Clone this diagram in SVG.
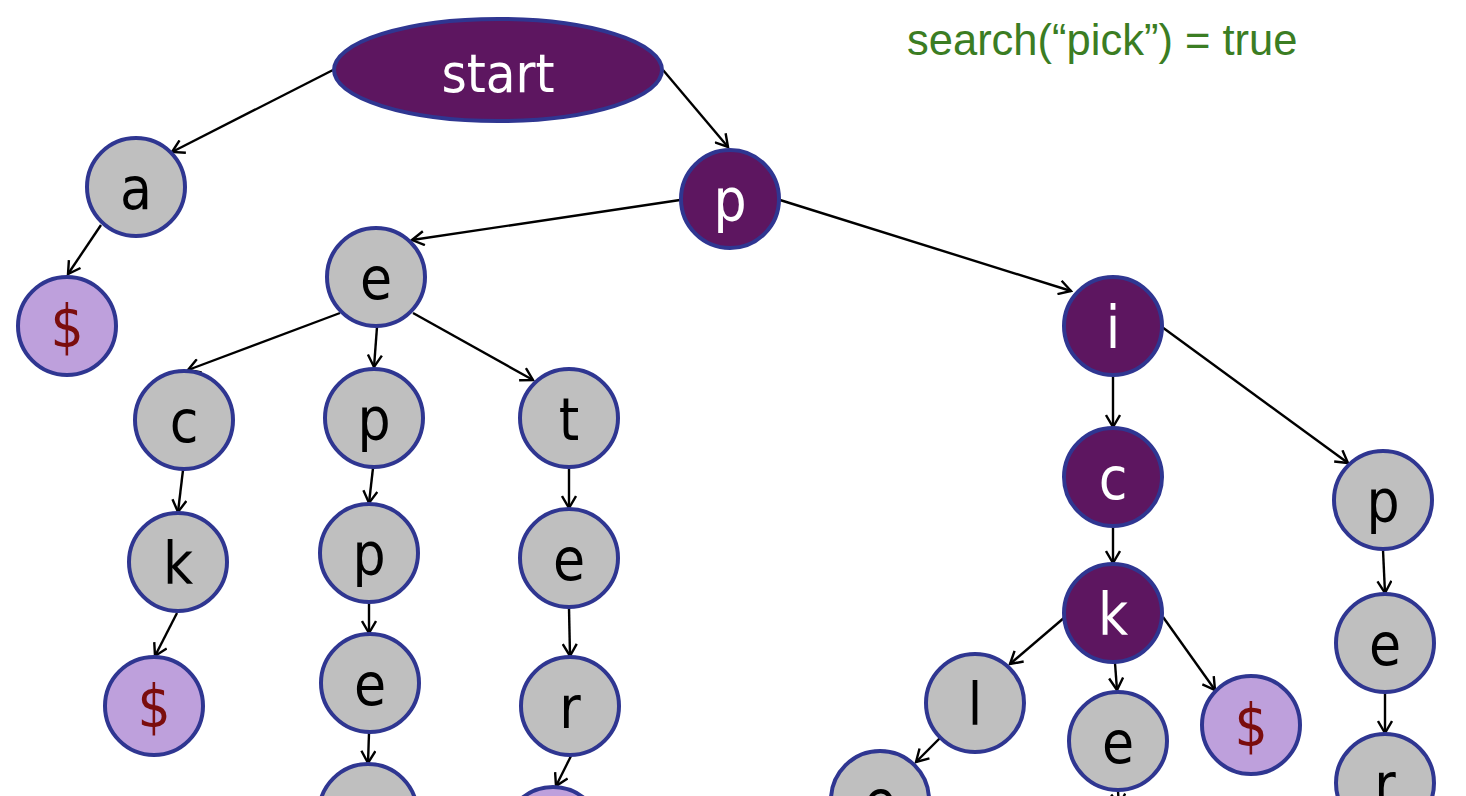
<svg xmlns="http://www.w3.org/2000/svg" width="1466" height="796" viewBox="0 0 1466 796">
<style>
.n circle,.n ellipse{stroke:#2f3691;stroke-width:4}
.g{fill:#bfbfbf}
.pu{fill:#5d1660}
.lv{fill:#bea0dc}
.t{font-family:"DejaVu Sans Condensed","DejaVu Sans",sans-serif;font-size:58px;text-anchor:middle}
.tb{fill:#000}
.tw{fill:#fff}
.td{fill:#7b0d0d}
#edges line{stroke:#000;stroke-width:2.4;marker-end:url(#ah)}
</style>
<defs>
<marker id="ah" markerUnits="userSpaceOnUse" viewBox="-14 -8 16 16" refX="0" refY="0" markerWidth="16" markerHeight="16" orient="auto">
<path d="M-12,-7 L0,0 L-12,7" fill="none" stroke="#000" stroke-width="2.4"/>
</marker>
</defs>
<rect width="1466" height="796" fill="#fff"/>
<text x="907" y="55" font-family="Liberation Sans, Arial, sans-serif" font-size="43.5" fill="#3b7d23">search(“pick”) = true</text>
<g id="edges">
<line x1="333" y1="70" x2="172" y2="152"/>
<line x1="663" y1="70" x2="728" y2="147"/>
<line x1="680" y1="200" x2="412" y2="240"/>
<line x1="780" y1="200" x2="1071" y2="291"/>
<line x1="101" y1="225" x2="68" y2="274"/>
<line x1="340" y1="313" x2="188" y2="370"/>
<line x1="377" y1="327" x2="374" y2="367"/>
<line x1="413" y1="313" x2="533" y2="380"/>
<line x1="183" y1="470" x2="178" y2="512"/>
<line x1="177" y1="613" x2="155" y2="656"/>
<line x1="373" y1="468" x2="369" y2="503"/>
<line x1="369" y1="603" x2="369" y2="633"/>
<line x1="369" y1="733" x2="368" y2="763"/>
<line x1="569" y1="468" x2="569" y2="508"/>
<line x1="569" y1="608" x2="570" y2="656"/>
<line x1="571" y1="756" x2="556" y2="786"/>
<line x1="1113" y1="376" x2="1113" y2="427"/>
<line x1="1162" y1="327" x2="1348" y2="463"/>
<line x1="1113" y1="527" x2="1113" y2="563"/>
<line x1="1065" y1="617" x2="1010" y2="664"/>
<line x1="1115" y1="663" x2="1117" y2="690"/>
<line x1="1163" y1="617" x2="1215" y2="690"/>
<line x1="940" y1="738" x2="916" y2="762"/>
<line x1="1118" y1="791" x2="1119" y2="806"/>
<line x1="1383" y1="550" x2="1385" y2="593"/>
<line x1="1385" y1="693" x2="1385" y2="733"/>
</g>
<g id="n-start" class="n"><ellipse class="pu" cx="498" cy="70" rx="164" ry="51"/><text class="t tw" x="498" y="92" style="font-size:54px">start</text></g>
<g id="n-a" class="n"><circle class="g" cx="136" cy="187" r="49"/><text class="t tb" x="136" y="209">a</text></g>
<g id="n-a-end" class="n"><circle class="lv" cx="67" cy="326" r="49"/><text class="t td" x="67" y="347">$</text></g>
<g id="n-p" class="n"><circle class="pu" cx="730" cy="199" r="49"/><text class="t tw" x="730" y="221">p</text></g>
<g id="n-pe" class="n"><circle class="g" cx="376" cy="277" r="49"/><text class="t tb" x="376" y="299">e</text></g>
<g id="n-pec" class="n"><circle class="g" cx="184" cy="420" r="49"/><text class="t tb" x="184" y="442">c</text></g>
<g id="n-peck" class="n"><circle class="g" cx="178" cy="562" r="49"/><text class="t tb" x="178" y="584">k</text></g>
<g id="n-peck-end" class="n"><circle class="lv" cx="154" cy="706" r="49"/><text class="t td" x="154" y="727">$</text></g>
<g id="n-pep" class="n"><circle class="g" cx="374" cy="418" r="49"/><text class="t tb" x="374" y="440">p</text></g>
<g id="n-pepp" class="n"><circle class="g" cx="369" cy="553" r="49"/><text class="t tb" x="369" y="575">p</text></g>
<g id="n-peppe" class="n"><circle class="g" cx="370" cy="683" r="49"/><text class="t tb" x="370" y="705">e</text></g>
<g id="n-pepper" class="n"><circle class="g" cx="368" cy="813" r="49"/></g>
<g id="n-pet" class="n"><circle class="g" cx="569" cy="418" r="49"/><text class="t tb" x="569" y="440">t</text></g>
<g id="n-pete" class="n"><circle class="g" cx="569" cy="558" r="49"/><text class="t tb" x="569" y="580">e</text></g>
<g id="n-peter" class="n"><circle class="g" cx="570" cy="706" r="49"/><text class="t tb" x="570" y="728">r</text></g>
<g id="n-peter-end" class="n"><circle class="lv" cx="553" cy="836" r="49"/></g>
<g id="n-pi" class="n"><circle class="pu" cx="1113" cy="326" r="49"/><text class="t tw" x="1113" y="348">i</text></g>
<g id="n-pic" class="n"><circle class="pu" cx="1113" cy="477" r="49"/><text class="t tw" x="1113" y="499">c</text></g>
<g id="n-pick" class="n"><circle class="pu" cx="1113" cy="613" r="49"/><text class="t tw" x="1113" y="635">k</text></g>
<g id="n-pickl" class="n"><circle class="g" cx="975" cy="703" r="49"/><text class="t tb" x="975" y="725">l</text></g>
<g id="n-pickle" class="n"><circle class="g" cx="880" cy="800" r="49"/><text class="t tb" x="880" y="822">e</text></g>
<g id="n-picke" class="n"><circle class="g" cx="1118" cy="741" r="49"/><text class="t tb" x="1118" y="763">e</text></g>
<g id="n-pick-end" class="n"><circle class="lv" cx="1251" cy="725" r="49"/><text class="t td" x="1251" y="746">$</text></g>
<g id="n-pip" class="n"><circle class="g" cx="1383" cy="500" r="49"/><text class="t tb" x="1383" y="522">p</text></g>
<g id="n-pipe" class="n"><circle class="g" cx="1385" cy="643" r="49"/><text class="t tb" x="1385" y="665">e</text></g>
<g id="n-piper" class="n"><circle class="g" cx="1385" cy="783" r="49"/><text class="t tb" x="1385" y="805">r</text></g>
</svg>
